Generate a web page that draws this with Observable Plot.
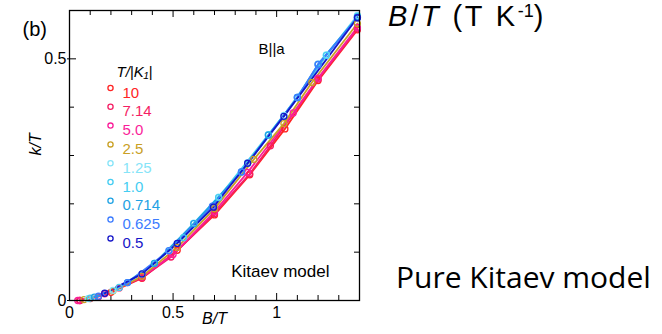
<!DOCTYPE html>
<html>
<head>
<meta charset="utf-8">
<script src="https://cdn.jsdelivr.net/npm/d3@7"></script>
<script src="https://cdn.jsdelivr.net/npm/@observablehq/plot@0.6"></script>
<style>
  html, body { margin: 0; padding: 0; background: #fff; }
  #wrap { position: relative; width: 662px; height: 334px; overflow: hidden; }
  .side { position: absolute; white-space: nowrap; color: #000; }
  #t1 { left: 388px; top: 0px; font-family: "Liberation Sans", Arial, sans-serif; font-size: 29px; line-height: 33px; letter-spacing: 2.8px; }
  #t1 .sup { position: relative; top: -0.5em; font-size: 0.62em; letter-spacing: 0; }
  #t2 { left: 396px; top: 257px; font-family: "Open Sans", "Noto Sans", sans-serif; font-size: 30px; line-height: 40px; }
</style>
</head>
<body>
<div id="wrap"></div>
<script>
// ---- data ----
const seriesLabels = ["10", "7.14", "5.0", "2.5", "1.25", "1.0", "0.714", "0.625", "0.5"];
const seriesColors = ["#ff2424", "#f51e64", "#fa1e9a", "#c9a024", "#86e4f8", "#44cdf2", "#1ea2e4", "#3c7cff", "#1616c8"];

const bT_10   = [0.05, 0.10, 0.20, 0.35, 0.52, 0.70, 0.87, 1.04, 1.20, 1.39];
const k_10    = [0.000, 0.004, 0.017, 0.046, 0.104, 0.177, 0.260, 0.355, 0.455, 0.560];
const bT_714  = [0.05, 0.14, 0.24, 0.35, 0.49, 0.70, 0.87, 0.97, 1.20, 1.39];
const k_714   = [0.000, 0.008, 0.026, 0.047, 0.090, 0.180, 0.262, 0.320, 0.458, 0.562];
const bT_50   = [0.04, 0.17, 0.35, 0.50, 0.70, 0.86, 1.08, 1.20, 1.39];
const k_50    = [0.000, 0.014, 0.049, 0.095, 0.184, 0.265, 0.388, 0.460, 0.565];
const bT_25   = [0.07, 0.21, 0.35, 0.52, 0.70, 0.89, 1.035, 1.17, 1.39];
const k_25    = [0.002, 0.020, 0.050, 0.110, 0.190, 0.292, 0.366, 0.451, 0.573];
const bT_125  = [0.09, 0.21, 0.35, 0.48, 0.60, 0.72, 0.86, 1.035, 1.24, 1.39];
const k_125   = [0.004, 0.021, 0.055, 0.103, 0.160, 0.214, 0.285, 0.383, 0.508, 0.590];
const bT_10b  = [0.10, 0.24, 0.41, 0.55, 0.72, 0.96, 1.10, 1.24, 1.39];
const k_10b   = [0.005, 0.027, 0.077, 0.130, 0.213, 0.343, 0.420, 0.507, 0.588];
const bT_0714 = [0.12, 0.28, 0.41, 0.60, 0.83, 0.96, 1.10, 1.20, 1.39];
const k_0714  = [0.007, 0.037, 0.077, 0.159, 0.266, 0.342, 0.420, 0.489, 0.586];
const bT_0625 = [0.14, 0.28, 0.48, 0.69, 0.83, 1.10, 1.20, 1.39];
const k_0625  = [0.009, 0.037, 0.103, 0.195, 0.266, 0.420, 0.488, 0.585];
const bT_05   = [0.17, 0.35, 0.52, 0.695, 0.86, 1.035, 1.39];
const k_05    = [0.015, 0.055, 0.118, 0.193, 0.284, 0.381, 0.585];

const xMajorTicks = [0, 0.5, 1];
const xMinorTicks = [0.1, 0.2, 0.3, 0.4, 0.6, 0.7, 0.8, 0.9, 1.1, 1.2, 1.3];
const yMajorTicks = [0, 0.5];
const yMinorTicks = [0.1, 0.2, 0.3, 0.4];

// ---- build table ----
const xs = [bT_10, bT_714, bT_50, bT_25, bT_125, bT_10b, bT_0714, bT_0625, bT_05];
const ys = [k_10, k_714, k_50, k_25, k_125, k_10b, k_0714, k_0625, k_05];
const rows = [];
seriesLabels.forEach((s, i) => xs[i].forEach((x, j) => rows.push({series: s, x, y: ys[i][j]})));

const W = 662, H = 334, mL = 69, mR = 303, mT = 10, mB = 34;
const pw = W - mL - mR, ph = H - mT - mB;
const font = "'Liberation Sans', Arial, sans-serif";

const legendMarks = seriesLabels.flatMap((s, i) => [
  Plot.dot([s], {frameAnchor: "top-left", dx: 41, dy: 77.5 + 18.8 * i, r: 2.6, stroke: seriesColors[i], strokeWidth: 1.3}),
  Plot.text([s], {frameAnchor: "top-left", dx: 53, dy: 76.5 + 18.8 * i, text: d => d, fill: seriesColors[i], fontSize: 15, textAnchor: "start"})
]);

const chart = Plot.plot({
  width: W, height: H,
  marginLeft: mL, marginRight: mR, marginTop: mT, marginBottom: mB,
  style: {fontFamily: font, fontSize: "15px", color: "#000", background: "transparent", overflow: "visible"},
  x: {domain: [0, 1.4]},
  y: {domain: [0, 0.6]},
  color: {domain: seriesLabels, range: seriesColors},
  marks: [
    // inward ticks
    Plot.ruleX(xMinorTicks, {x: d => d, insetTop: ph - 5, stroke: "#000"}),
    Plot.ruleX(xMajorTicks, {x: d => d, insetTop: ph - 7, stroke: "#000"}),
    Plot.ruleX(xMinorTicks, {x: d => d, insetBottom: ph - 5, stroke: "#000"}),
    Plot.ruleX(xMajorTicks, {x: d => d, insetBottom: ph - 7, stroke: "#000"}),
    Plot.ruleY(yMinorTicks, {y: d => d, insetRight: pw - 5, stroke: "#000"}),
    Plot.ruleY(yMajorTicks, {y: d => d, insetRight: pw - 7, insetLeft: -2, stroke: "#000"}),
    Plot.ruleY(yMinorTicks, {y: d => d, insetLeft: pw - 5, stroke: "#000"}),
    Plot.ruleY(yMajorTicks, {y: d => d, insetLeft: pw - 7, stroke: "#000"}),
    // tick labels
    Plot.axisX({ticks: xMajorTicks, tickSize: 0, tickPadding: 6, tickFormat: d => String(d), label: null, fontSize: 16}),
    Plot.axisY({ticks: yMajorTicks, tickSize: 0, tickPadding: 3, tickFormat: d => String(d), label: null, fontSize: 16}),
    // data
    Plot.line(rows, {x: "x", y: "y", z: "series", stroke: "series", strokeWidth: 1.8, curve: "linear"}),
    Plot.dot(rows, {x: "x", y: "y", stroke: "series", r: 3, strokeWidth: 1.3}),
    Plot.frame({stroke: "#000", strokeWidth: 1.3}),
    // axis labels
    Plot.text(["B/T"], {frameAnchor: "bottom", dy: 23, text: d => d, fontStyle: "italic", fontSize: 16}),
    Plot.text(["k/T"], {frameAnchor: "left", dx: -34, text: d => d, rotate: -90, fontStyle: "italic", fontSize: 16}),
    // annotations
    Plot.text(["(b)"], {frameAnchor: "top-left", dx: -47, dy: 11, text: d => d, fontSize: 20, textAnchor: "start"}),
    Plot.text(["B||a"], {frameAnchor: "top-left", dx: 189, dy: 33, text: d => d, fontSize: 15, textAnchor: "start"}),
    Plot.text(["Kitaev model"], {frameAnchor: "bottom-right", dx: -30, dy: -24, text: d => d, fontSize: 17, textAnchor: "end"}),
    Plot.text(["T/|K₁|"], {frameAnchor: "top-left", dx: 47, dy: 56, text: d => d, fontSize: 15, fontStyle: "italic", textAnchor: "start"}),
    ...legendMarks
  ]
});

const wrap = document.getElementById("wrap");
wrap.appendChild(chart);
const t1 = document.createElement("div");
t1.className = "side"; t1.id = "t1";
t1.innerHTML = '<i>B</i>/<i>T</i> (T K<span class="sup">-1</span>)';
wrap.appendChild(t1);
const t2 = document.createElement("div");
t2.className = "side"; t2.id = "t2";
t2.textContent = "Pure Kitaev model";
wrap.appendChild(t2);
</script>
</body>
</html>
